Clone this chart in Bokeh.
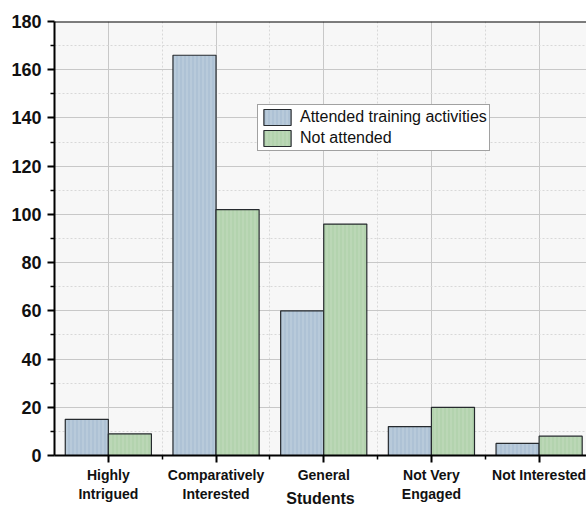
from bokeh.plotting import figure
from bokeh.models import ColumnDataSource, FixedTicker, Legend, LegendItem, Range1d
from bokeh.embed import file_html
from bokeh.resources import INLINE

categories = ["Highly\nIntrigued", "Comparatively\nInterested", "General", "Not Very\nEngaged", "Not Interested"]
attended = [15, 166, 60, 12, 5]
not_attended = [9, 102, 96, 20, 8]
series_names = ["Attended training activities", "Not attended"]
y_ticks = [0, 20, 40, 60, 80, 100, 120, 140, 160, 180]

pos = list(range(1, len(categories) + 1))
bw = 0.4

p = figure(width=586, height=509, output_backend="svg", toolbar_location=None,
           x_range=Range1d(0.5, 5.44), y_range=Range1d(0, 180),
           min_border_left=54, min_border_top=21, min_border_right=0, min_border_bottom=0)
p.background_fill_color = "#f7f7f7"
p.border_fill_color = "white"
p.outline_line_color = None

src_a = ColumnDataSource(dict(x=[x - bw / 2 for x in pos], top=attended))
src_b = ColumnDataSource(dict(x=[x + bw / 2 for x in pos], top=not_attended))
ra = p.vbar(x="x", top="top", width=bw, source=src_a, fill_color="#aec2d5",
            line_color="#262a2e", line_width=1.2, hatch_pattern="|", hatch_color="white",
            hatch_alpha=0.25, hatch_scale=4, hatch_weight=1)
rb = p.vbar(x="x", top="top", width=bw, source=src_b, fill_color="#b3d3ae",
            line_color="#262a2e", line_width=1.2, hatch_pattern="|", hatch_color="white",
            hatch_alpha=0.2, hatch_scale=4, hatch_weight=1)

# top border line
p.line(x=[0.5, 5.44], y=[180, 180], line_color="black", line_width=2)

# axes
p.xaxis.ticker = FixedTicker(ticks=pos, minor_ticks=[x + 0.5 for x in pos])
p.xaxis.major_label_overrides = {i + 1: c for i, c in enumerate(categories)}
p.xaxis.axis_label = "Students"
p.yaxis.ticker = FixedTicker(ticks=y_ticks, minor_ticks=[t + 10 for t in y_ticks[:-1]])

for ax in (p.xaxis[0], p.yaxis[0]):
    ax.axis_line_color = "black"
    ax.axis_line_width = 2
    ax.major_tick_line_color = "black"
    ax.minor_tick_line_color = "black"
    ax.major_tick_line_width = 2
    ax.minor_tick_line_width = 1.5
    ax.major_tick_out = 7
    ax.major_tick_in = 0
    ax.minor_tick_out = 4
    ax.minor_tick_in = 0
    ax.major_label_text_font = "Liberation Sans"
    ax.major_label_text_font_style = "bold"
    ax.major_label_text_color = "#111111"
    ax.axis_label_text_font = "Liberation Sans"
    ax.axis_label_text_font_style = "bold"
    ax.axis_label_text_color = "#111111"

p.yaxis.major_label_text_font_size = "18px"
p.xaxis.major_label_text_font_size = "14px"
p.xaxis.axis_label_text_font_size = "16px"
p.xaxis.axis_label_standoff = -15
p.xaxis.major_label_standoff = 4
p.yaxis.major_label_standoff = 6

# grids
p.xgrid.grid_line_color = "#c8c8c8"
p.ygrid.grid_line_color = "#c8c8c8"
p.xgrid.grid_line_width = 1
p.ygrid.grid_line_width = 1
p.xgrid.minor_grid_line_color = "#d8d8d8"
p.ygrid.minor_grid_line_color = "#d8d8d8"
p.xgrid.minor_grid_line_dash = "2 2"
p.ygrid.minor_grid_line_dash = "2 2"
p.xgrid.level = "underlay"
p.ygrid.level = "underlay"

legend = Legend(items=[LegendItem(label=series_names[0], renderers=[ra]),
                       LegendItem(label=series_names[1], renderers=[rb])],
                location=(203, 304))
legend.label_text_font = "Liberation Sans"
legend.label_text_font_size = "16px"
legend.label_text_color = "#111111"
legend.border_line_color = "#444444"
legend.border_line_width = 1
legend.background_fill_color = "white"
legend.background_fill_alpha = 1
legend.padding = 2
legend.margin = 0
legend.spacing = 1
legend.glyph_width = 34
legend.glyph_height = 20
legend.label_height = 20
legend.label_standoff = 6
p.add_layout(legend)

open("out.html", "w").write(file_html(p, INLINE))
